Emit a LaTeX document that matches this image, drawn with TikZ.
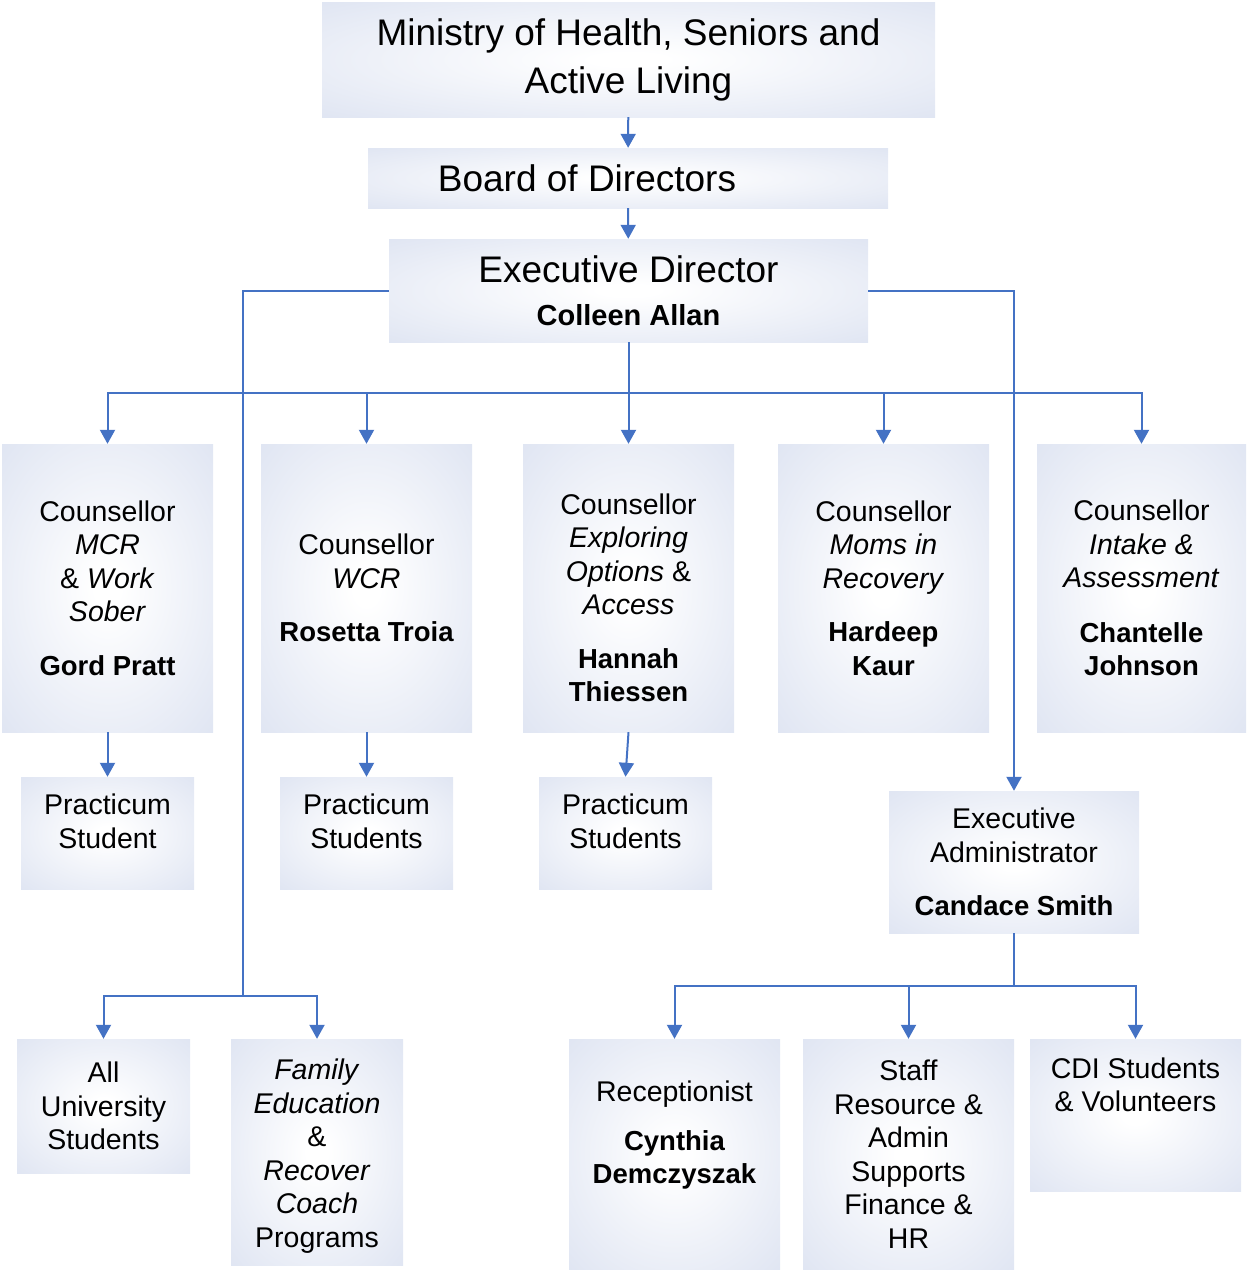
\documentclass[tikz,border=0pt]{standalone}
\usepackage{fontspec}
\setmainfont{Liberation Sans}
\usetikzlibrary{arrows.meta}
\definecolor{boxedge}{RGB}{210,218,237}
\definecolor{linkblue}{RGB}{68,114,196}
\pgfdeclareradialshading{boxglow}{\pgfpoint{0bp}{0bp}}{color(0bp)=(white); color(3bp)=(white); color(50bp)=(boxedge); color(100bp)=(boxedge)}
\newcommand{\staffname}[1]{{\fontsize{27.5}{33.5}\selectfont\bfseries #1}}

\begin{document}
\begin{tikzpicture}[
    x=1pt, y=-1pt,
    box/.style={shade, shading=boxglow, inner sep=0pt, align=center, font=\fontsize{28.5}{33.5}\selectfont},
    bigfont/.style={font=\fontsize{37}{48}\selectfont},
    counsbox/.style={box, minimum width=211pt, minimum height=288pt},
    pracbox/.style={box, minimum width=173pt, minimum height=112pt},
    arr/.style={-{Triangle[width=15pt, length=14pt]}, line width=2pt, color=linkblue},
    link/.style={line width=2pt, color=linkblue},
]
\useasboundingbox (0,0) rectangle (1247,1270);

% Top: ministry, board, director
\node[box, bigfont, minimum width=613pt, minimum height=115pt] (ministry) at (628.5,59.5) {Ministry of Health, Seniors and\\Active Living};
\node[box, bigfont, minimum width=520pt, minimum height=60pt] (board) at (628,178) {Board of Directors\hspace*{82pt}};
\node[box, minimum width=479pt, minimum height=103pt] (exec) at (628.5,290.5) {\fontsize{37}{46}\selectfont Executive Director\\[10pt]\fontsize{29}{46}\selectfont\bfseries Colleen Allan};

\draw[arr] (ministry) -- (board);
\draw[arr] (board) -- (exec);

% Counsellors
\node[counsbox] (mcr) at (107.5,588) {Counsellor\\\textit{MCR}\\\& \textit{Work}\\\textit{Sober}\\[20pt]\staffname{Gord Pratt}};
\node[counsbox] (wcr) at (366.5,588) {Counsellor\\\textit{WCR}\\[20pt]\staffname{Rosetta Troia}};
\node[counsbox] (explore) at (628.5,588) {\mbox{}\\[7pt]Counsellor\\\textit{Exploring}\\\textit{Options} \&\\\textit{Access}\\[20pt]\staffname{Hannah}\\\staffname{Thiessen}};
\node[counsbox] (moms) at (883.5,588) {Counsellor\\\textit{Moms in}\\\textit{Recovery}\\[20pt]\staffname{Hardeep}\\\staffname{Kaur}};
\node[counsbox, minimum width=209pt] (intake) at (1141.5,588) {Counsellor\\\textit{Intake \&}\\\textit{Assessment}\\[21pt]\staffname{Chantelle}\\\staffname{Johnson}};

\coordinate (bus) at (628.5,393);
\draw[link] (exec.south) -- (bus);
\foreach \n in {mcr,wcr,explore,moms,intake}
  \draw[arr] (bus) -| (\n.north);

% Practicum students
\node[pracbox] (mcr-prac) at (107.5,833) {Practicum\\Student\\[-9.5pt]\mbox{}};
\node[pracbox] (wcr-prac) at (366.5,833) {Practicum\\Students\\[-9.5pt]\mbox{}};
\node[pracbox] (explore-prac) at (625.5,833) {Practicum\\Students\\[-9.5pt]\mbox{}};

\draw[arr] (mcr) -- (mcr-prac);
\draw[arr] (wcr) -- (wcr-prac);
\draw[arr] (explore.south) -- (explore-prac.north);

% Left branch: students and programs
\node[box, minimum width=173pt, minimum height=134pt] (uni) at (103.5,1106) {All\\University\\Students};
\node[box, minimum width=172pt, minimum height=226pt] (family) at (317,1152) {\mbox{}\\[-4.5pt]\textit{Family}\\\textit{Education}\\\&\\\textit{Recover}\\\textit{Coach}\\Programs};

\coordinate (lbus) at (243,996);
\draw[link] (exec.west) -| (lbus);
\draw[arr] (lbus) -| (uni.north);
\draw[arr] (lbus) -| (family.north);

% Right branch: administration
\node[box, minimum width=250pt, minimum height=142pt] (admin) at (1014,862) {Executive\\Administrator\\[20pt]\staffname{Candace Smith}};
\draw[arr] (exec.east) -| (admin.north);

\node[box, minimum width=211pt, minimum height=230pt] (recep) at (674.5,1154) {Receptionist\\[15pt]\staffname{Cynthia}\\\staffname{Demczyszak}\\[10pt]\mbox{}};
\node[box, minimum width=211pt, minimum height=230pt] (staff) at (908.5,1154) {Staff\\Resource \&\\Admin\\Supports\\Finance \&\\HR};
\node[box, minimum width=211pt, minimum height=152pt] (cdi) at (1135.5,1115) {CDI Students\\\& Volunteers\\[27pt]\mbox{}};

\coordinate (abus) at (1014,986);
\draw[link] (admin.south) -- (abus);
\foreach \n in {recep,staff,cdi}
  \draw[arr] (abus) -| (\n.north);

\end{tikzpicture}
\end{document}
